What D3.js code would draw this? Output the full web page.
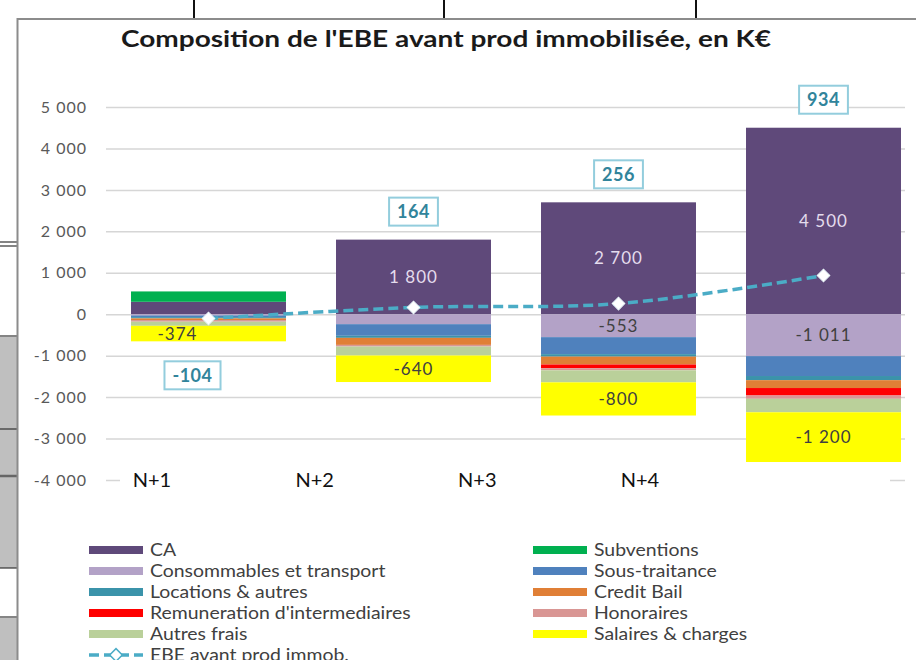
<!DOCTYPE html>
<html>
<head>
<meta charset="utf-8">
<script src="https://cdn.jsdelivr.net/npm/d3@7"></script>
<style>
  body { margin: 0; background: #fff; }
  svg { display: block; font-family: Lato, "Open Sans", sans-serif; }
</style>
</head>
<body>
<script>
// chart values (K€)
var categories = ["N+1", "N+2", "N+3", "N+4"];
var CA = [300, 1800, 2700, 4500];
var subventions = [250, 0, 0, 0];
var consommables = [-30, -240, -553, -1011];
var sousTraitance = [-40, -280, -410, -480];
var locations = [-30, -50, -60, -100];
var creditBail = [-40, -170, -190, -190];
var remuneration = [0, 0, -90, -180];
var honoraires = [-40, -40, -50, -80];
var autresFrais = [-100, -216, -291, -325];
var salaires = [-374, -640, -800, -1200];
var ebe = [-104, 164, 256, 934];
var yTicks = [-4000, -3000, -2000, -1000, 0, 1000, 2000, 3000, 4000, 5000];

var series = [
    { key: "CA", name: "CA", values: CA, color: "#5f497a", label: true, labelColor: "#e4dced" },
    { key: "sub", name: "Subventions", values: subventions, color: "#00b050" },
    { key: "cons", name: "Consommables et transport", values: consommables, color: "#b3a2c7", label: true },
    { key: "st", name: "Sous-traitance", values: sousTraitance, color: "#4f81bd" },
    { key: "loc", name: "Locations & autres", values: locations, color: "#3b93aa" },
    { key: "cb", name: "Credit Bail", values: creditBail, color: "#e07f36" },
    { key: "rem", name: "Remuneration d'intermediaires", values: remuneration, color: "#ff0000" },
    { key: "hon", name: "Honoraires", values: honoraires, color: "#d99694" },
    { key: "af", name: "Autres frais", values: autresFrais, color: "#bad09a" },
    { key: "sal", name: "Salaires & charges", values: salaires, color: "#ffff00", label: true }
];
var lineColor = "#4bacc6";

var W = 916, H = 660;
var fr = d3.formatLocale({ decimal: ",", thousands: "\u00a0", grouping: [3], currency: ["", ""], minus: "-" });
var fmt = fr.format(",d");

var svg = d3.select("body").append("svg").attr("width", W).attr("height", H);

// --- background artefacts (sheet behind the chart)
var bg = svg.append("g");
bg.append("rect").attr("x", 0).attr("y", 337).attr("width", 17).attr("height", 231).attr("fill", "#bfbfbf");
bg.append("rect").attr("x", 0).attr("y", 618).attr("width", 17).attr("height", 42).attr("fill", "#bfbfbf");
[242, 246, 336, 429, 568, 617].forEach(function(y) {
    bg.append("line").attr("x1", 0).attr("x2", 17).attr("y1", y).attr("y2", y)
        .attr("stroke", "#333").attr("stroke-width", 1.2);
});
bg.append("line").attr("x1", 0).attr("x2", 17).attr("y1", 476).attr("y2", 476)
    .attr("stroke", "#666").attr("stroke-width", 2.5);
[194, 444, 696].forEach(function(x) {
    bg.append("line").attr("x1", x).attr("x2", x).attr("y1", 0).attr("y2", 18)
        .attr("stroke", "#111").attr("stroke-width", 2);
});
// chart frame
bg.append("path").attr("d", "M17.5,660 V19 H916").attr("fill", "none")
    .attr("stroke", "#8c8c8c").attr("stroke-width", 2);

// title (picture is stretched sideways, so stretch the glyphs too)
svg.append("text").attr("x", 121).attr("y", 47)
    .attr("font-size", 22.5).attr("font-weight", "bold").attr("fill", "#1a1a1a")
    .attr("textLength", 650).attr("lengthAdjust", "spacingAndGlyphs")
    .text("Composition de l'EBE avant prod immobilisée, en K€");

// scales
var y = d3.scaleLinear().domain([-4000, 5000]).range([480, 107]);
var x = d3.scaleBand().domain(categories).range([106, 926]).paddingInner(0.244).paddingOuter(0.122);
var xLab = d3.scalePoint().domain(categories).range([152, 640]);
var gridX0 = 106, gridX1 = 905;

// gridlines
svg.append("g").selectAll("line").data(yTicks).join("line")
    .attr("x1", gridX0).attr("x2", gridX1)
    .attr("y1", function(d) { return y(d) + 0.5; }).attr("y2", function(d) { return y(d) + 0.5; })
    .attr("stroke", "#d6d6d6").attr("stroke-width", 1.5);

// y axis labels
var yAxis = d3.axisLeft(y).tickValues(yTicks).tickSize(0).tickPadding(0).tickFormat(fmt);
var ga = svg.append("g").attr("transform", "translate(87,0)").call(yAxis);
ga.select(".domain").remove();
ga.selectAll("text").attr("font-size", 16).attr("letter-spacing", 1)
    .attr("fill", "#595959").attr("font-family", "Lato, sans-serif");

// stacked bars
var rows = categories.map(function(c, i) {
    var r = { cat: c };
    series.forEach(function(s) { r[s.key] = s.values[i]; });
    return r;
});
var stack = d3.stack().keys(series.map(function(s) { return s.key; })).offset(d3.stackOffsetDiverging);
var stacked = stack(rows);

var bars = svg.append("g");
stacked.forEach(function(layer, li) {
    var s = series[li];
    bars.append("g").attr("fill", s.color).selectAll("rect").data(layer).join("rect")
        .attr("x", function(d) { return x(d.data.cat); })
        .attr("width", x.bandwidth())
        .attr("y", function(d) { return y(Math.max(d[0], d[1])); })
        .attr("height", function(d) { return Math.abs(y(d[0]) - y(d[1])); });
});

var cx = function(i) { return x(categories[i]) + x.bandwidth() / 2; };

// segment value labels (nudged left when the EBE marker sits right on top)
stacked.forEach(function(layer, li) {
    var s = series[li];
    if (!s.label) return;
    layer.forEach(function(d, i) {
        var h = Math.abs(y(d[0]) - y(d[1]));
        if (h < 14) return;
        var ly = (y(d[0]) + y(d[1])) / 2;
        var nudge = Math.abs(ly - y(ebe[i])) < 16 ? -31 : 0;
        svg.append("text")
            .attr("x", cx(i) + nudge)
            .attr("y", ly)
            .attr("dy", "0.36em").attr("text-anchor", "middle")
            .attr("font-size", 17).attr("letter-spacing", 1)
            .attr("fill", s.labelColor || "#404040")
            .text(fmt(s.values[i]));
    });
});

// category labels (on the bottom line)
svg.append("rect").attr("x", 120).attr("y", 471).attr("width", 770).attr("height", 20).attr("fill", "#fff");
svg.append("g").selectAll("text").data(categories).join("text")
    .attr("x", function(d) { return xLab(d); }).attr("y", 487)
    .attr("text-anchor", "middle").attr("font-size", 20).attr("fill", "#111")
    .text(function(d) { return d; });

// EBE line
var line = d3.line().x(function(d, i) { return cx(i); }).y(function(d) { return y(d); })
    .curve(d3.curveCatmullRom.alpha(0.5));
svg.append("path").datum(ebe).attr("d", line).attr("fill", "none")
    .attr("stroke", lineColor).attr("stroke-width", 3.5).attr("stroke-dasharray", "10,5");

var diamond = d3.symbol().type(d3.symbolSquare).size(80);
svg.append("g").selectAll("path").data(ebe).join("path")
    .attr("d", diamond)
    .attr("transform", function(d, i) { return "translate(" + cx(i) + "," + y(d) + ") rotate(45)"; })
    .attr("fill", "#fff").attr("stroke", "#e8f4f8").attr("stroke-width", 1);

// EBE boxed labels
var posTop = categories.map(function(c, i) { return d3.max(stacked, function(l) { return l[i][1]; }); });
var negBot = categories.map(function(c, i) { return d3.min(stacked, function(l) { return l[i][0]; }); });
ebe.forEach(function(v, i) {
    var cy = v >= 0 ? y(posTop[i]) - 28 : y(negBot[i]) + 34;
    var lx = v >= 0 ? cx(i) : cx(i) - 16;
    var g = svg.append("g");
    var t = g.append("text").attr("x", lx).attr("y", cy).attr("dy", "0.36em")
        .attr("text-anchor", "middle").attr("font-size", 18).attr("font-weight", "bold")
        .attr("letter-spacing", 0.5)
        .attr("fill", "#31849b").text(fmt(v));
    var bb = t.node().getBBox();
    g.insert("rect", "text").attr("x", bb.x - 8).attr("y", cy - 14)
        .attr("width", bb.width + 16).attr("height", 28)
        .attr("fill", "#fff").attr("stroke", "#93cddd").attr("stroke-width", 2);
});

// legend
var legend = svg.append("g");
var items = series.map(function(s) { return { name: s.name, color: s.color }; });
items.forEach(function(it, i) {
    var col = i % 2, row = Math.floor(i / 2);
    var lx = col === 0 ? 89 : 533, ly = 550 + row * 21;
    legend.append("rect").attr("x", lx).attr("y", ly - 4).attr("width", 54).attr("height", 8).attr("fill", it.color);
    legend.append("text").attr("transform", "translate(" + (lx + 61) + "," + ly + ") scale(1.11,1)")
        .attr("dy", "0.35em").attr("font-size", 17.5).attr("fill", "#404040").text(it.name);
});
var ly = 550 + 5 * 21;
legend.append("line").attr("x1", 89).attr("x2", 143).attr("y1", ly).attr("y2", ly)
    .attr("stroke", lineColor).attr("stroke-width", 3.5).attr("stroke-dasharray", "10,5");
legend.append("path").attr("d", diamond).attr("transform", "translate(116," + ly + ") rotate(45)")
    .attr("fill", "#fff").attr("stroke", lineColor).attr("stroke-width", 1.5);
legend.append("text").attr("transform", "translate(150," + ly + ") scale(1.11,1)")
    .attr("dy", "0.35em").attr("font-size", 17.5).attr("fill", "#404040").text("EBE avant prod immob.");
</script>
</body>
</html>
